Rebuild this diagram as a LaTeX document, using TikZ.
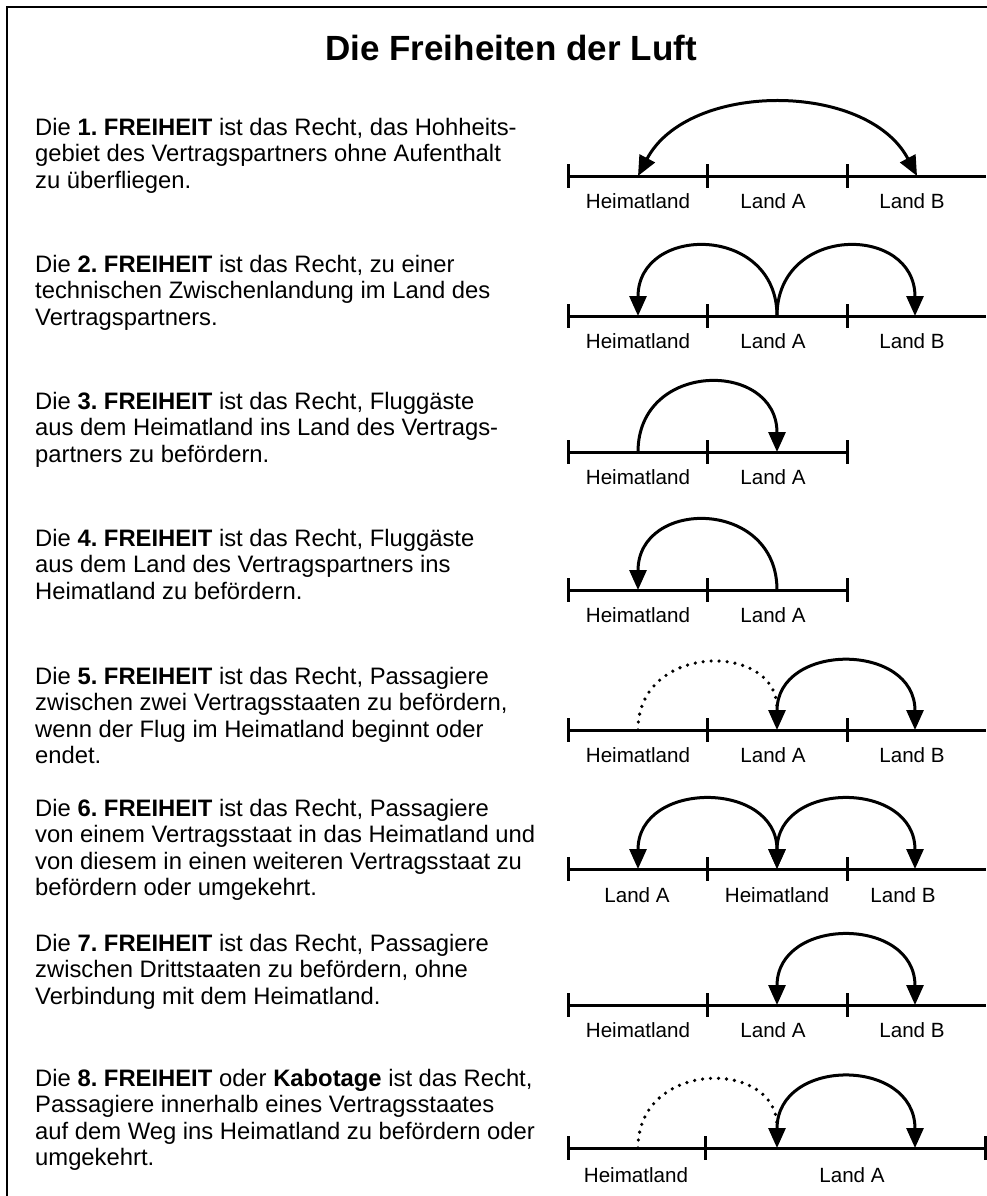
\documentclass[tikz,border=0pt]{standalone}
\usepackage{fontspec}
\setmainfont{Liberation Sans}
\usetikzlibrary{arrows.meta}
\frenchspacing
\begin{document}
\begin{tikzpicture}[x=1pt,y=-1pt,
  >={Triangle[length=20pt,width=17pt]},
  txt/.style={anchor=north west,inner sep=0pt,align=left,font=\fontsize{23.8}{26.5}\selectfont\frenchspacing},
  lbl/.style={anchor=base,inner sep=0pt,font=\fontsize{20.6}{24}\selectfont},
  ttl/.style={anchor=base,inner sep=0pt,font=\fontsize{35}{40}\selectfont\bfseries},
  axisline/.style={line width=3pt},
  tickmark/.style={line width=3pt},
  flight/.style={line width=3pt},
  dotflight/.style={line width=3.6pt,dash pattern=on 0pt off 8pt,line cap=round,shorten >=22pt},
  frame/.style={line width=2.5pt}
]
\useasboundingbox (0,0) rectangle (986,1196);
\draw[frame] (7,1196) -- (7,7) -- (987,7);

\node[ttl] (title) at (511,61) {Die Freiheiten der Luft};

% texts
\node[txt] (t1) at (35,116.45) {\strut Die \textbf{1. FREIHEIT} ist das Recht, das Hohheits-\\gebiet des Vertragspartners ohne Aufenthalt\\zu überfliegen.};
\node[txt] (t2) at (35,253.45) {\strut Die \textbf{2. FREIHEIT} ist das Recht, zu einer\\technischen Zwischenlandung im Land des\\Vertragspartners.};
\node[txt] (t3) at (35,390.45) {\strut Die \textbf{3. FREIHEIT} ist das Recht, Fluggäste\\aus dem Heimatland ins Land des Vertrags-\\partners zu befördern.};
\node[txt] (t4) at (35,527.45) {\strut Die \textbf{4. FREIHEIT} ist das Recht, Fluggäste\\aus dem Land des Vertragspartners ins\\Heimatland zu befördern.};
\node[txt] (t5) at (35,665.45) {\strut Die \textbf{5. FREIHEIT} ist das Recht, Passagiere\\zwischen zwei Vertragsstaaten zu befördern,\\wenn der Flug im Heimatland beginnt oder\\endet.};
\node[txt] (t6) at (35,797.45) {\strut Die \textbf{6. FREIHEIT} ist das Recht, Passagiere\\von einem Vertragsstaat in das Heimatland und\\von diesem in einen weiteren Vertragsstaat zu\\befördern oder umgekehrt.};
\node[txt] (t7) at (35,932.45) {\strut Die \textbf{7. FREIHEIT} ist das Recht, Passagiere\\zwischen Drittstaaten zu befördern, ohne\\Verbindung mit dem Heimatland.};
\node[txt] (t8) at (35,1067.45) {\strut Die \textbf{8. FREIHEIT} oder \textbf{Kabotage} ist das Recht,\\Passagiere innerhalb eines Vertragsstaates\\auf dem Weg ins Heimatland zu befördern oder\\umgekehrt.};

% ---------- Row 1
\coordinate (r1s) at (568,176); \coordinate (r1e) at (986,176);
\coordinate (r1h) at (638,176); \coordinate (r1b) at (917,176);
\draw[axisline] (r1s) -- (r1e);
\foreach \x in {568,707,847} \draw[tickmark] (\x,164) -- (\x,188);
\node[lbl] (l1h) at (638,208) {Heimatland};
\node[lbl] (l1a) at (773,208) {Land A};
\node[lbl] (l1b) at (912,208) {Land B};
\draw[flight,<->] (r1h) .. controls +(50,-95) and +(-50,-95) .. (r1b);

% ---------- Row 2
\coordinate (r2s) at (568,316); \coordinate (r2e) at (986,316);
\coordinate (r2h) at (638,316); \coordinate (r2a) at (777,316); \coordinate (r2b) at (915,316);
\draw[axisline] (r2s) -- (r2e);
\foreach \x in {568,707,847} \draw[tickmark] (\x,304) -- (\x,328);
\node[lbl] (l2h) at (638,348) {Heimatland};
\node[lbl] (l2a) at (773,348) {Land A};
\node[lbl] (l2b) at (912,348) {Land B};
\draw[flight,->] (r2a) .. controls +(0,-92) and +(0,-92) .. (r2h);
\draw[flight,->] (r2a) .. controls +(0,-92) and +(0,-92) .. (r2b);

% ---------- Row 3
\coordinate (r3s) at (568,452); \coordinate (r3e) at (847,452);
\coordinate (r3h) at (638,452); \coordinate (r3a) at (777,452);
\draw[axisline] (r3s) -- (r3e);
\foreach \x in {568,707,847} \draw[tickmark] (\x,440) -- (\x,464);
\node[lbl] (l3h) at (638,484) {Heimatland};
\node[lbl] (l3a) at (773,484) {Land A};
\draw[flight,->] (r3h) .. controls +(0,-92) and +(0,-92) .. (r3a);

% ---------- Row 4
\coordinate (r4s) at (568,590); \coordinate (r4e) at (847,590);
\coordinate (r4h) at (638,590); \coordinate (r4a) at (777,590);
\draw[axisline] (r4s) -- (r4e);
\foreach \x in {568,707,847} \draw[tickmark] (\x,578) -- (\x,602);
\node[lbl] (l4h) at (638,622) {Heimatland};
\node[lbl] (l4a) at (773,622) {Land A};
\draw[flight,->] (r4a) .. controls +(0,-92) and +(0,-92) .. (r4h);

% ---------- Row 5
\coordinate (r5s) at (568,730); \coordinate (r5e) at (986,730);
\coordinate (r5h) at (638,730); \coordinate (r5a) at (777,730); \coordinate (r5b) at (915,730);
\draw[axisline] (r5s) -- (r5e);
\foreach \x in {568,707,847} \draw[tickmark] (\x,718) -- (\x,742);
\node[lbl] (l5h) at (638,762) {Heimatland};
\node[lbl] (l5a) at (773,762) {Land A};
\node[lbl] (l5b) at (912,762) {Land B};
\draw[dotflight] (r5h) .. controls +(0,-88) and +(0,-88) .. (r5a);
\draw[flight,<->] (r5a) .. controls +(0,-88) and +(0,-88) .. (r5b);

% ---------- Row 6
\coordinate (r6s) at (568,869); \coordinate (r6e) at (986,869);
\coordinate (r6a) at (638,869); \coordinate (r6h) at (777,869); \coordinate (r6b) at (915,869);
\draw[axisline] (r6s) -- (r6e);
\foreach \x in {568,707,847} \draw[tickmark] (\x,857) -- (\x,881);
\node[lbl] (l6a) at (637,902) {Land A};
\node[lbl] (l6h) at (777,902) {Heimatland};
\node[lbl] (l6b) at (903,902) {Land B};
\draw[flight,<->] (r6h) .. controls +(0,-89) and +(0,-89) .. (r6a);
\draw[flight,<->] (r6h) .. controls +(0,-89) and +(0,-89) .. (r6b);

% ---------- Row 7
\coordinate (r7s) at (568,1005); \coordinate (r7e) at (986,1005);
\coordinate (r7a) at (777,1005); \coordinate (r7b) at (915,1005);
\draw[axisline] (r7s) -- (r7e);
\foreach \x in {568,707,847} \draw[tickmark] (\x,993) -- (\x,1017);
\node[lbl] (l7h) at (638,1037) {Heimatland};
\node[lbl] (l7a) at (773,1037) {Land A};
\node[lbl] (l7b) at (912,1037) {Land B};
\draw[flight,<->] (r7a) .. controls +(0,-89) and +(0,-89) .. (r7b);

% ---------- Row 8
\coordinate (r8s) at (568,1148); \coordinate (r8e) at (986,1148);
\coordinate (r8h) at (638,1148); \coordinate (r8a) at (777,1148); \coordinate (r8b) at (915,1148);
\draw[axisline] (r8s) -- (r8e);
\foreach \x in {568,705,985} \draw[tickmark] (\x,1136) -- (\x,1160);
\node[lbl] (l8h) at (636,1182) {Heimatland};
\node[lbl] (l8a) at (852,1182) {Land A};
\draw[dotflight] (r8h) .. controls +(0,-89) and +(0,-89) .. (r8a);
\draw[flight,<->] (r8a) .. controls +(0,-91) and +(0,-91) .. (r8b);
\end{tikzpicture}
\end{document}
